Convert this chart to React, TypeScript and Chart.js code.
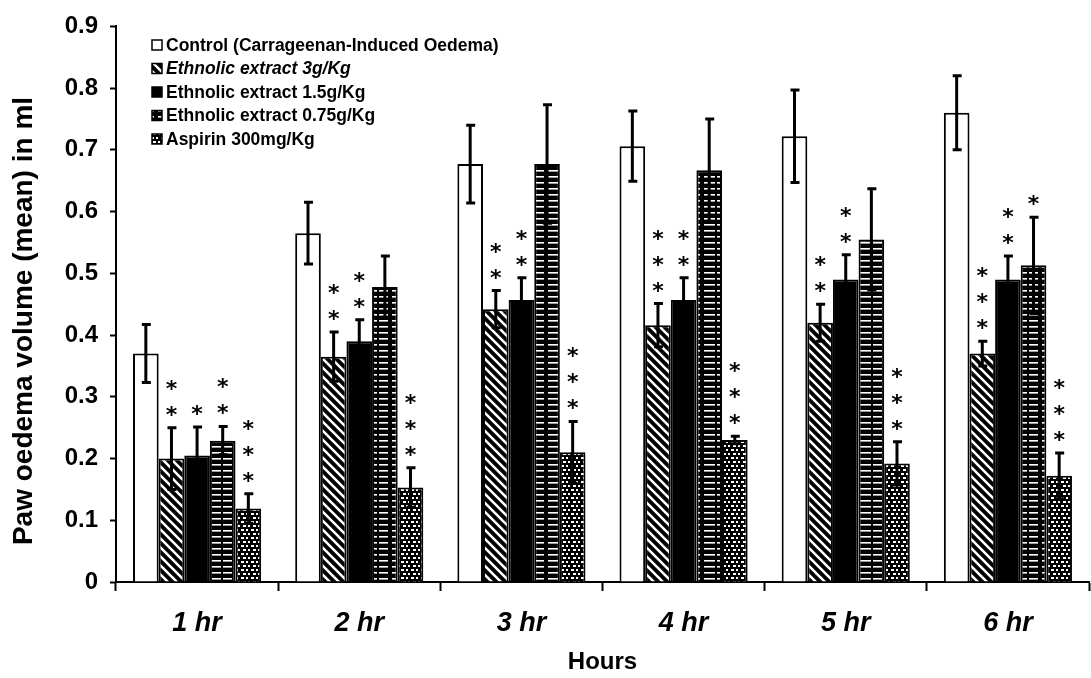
import React, { useEffect, useRef } from 'react';
import { Chart, registerables } from 'chart.js';

Chart.register(...registerables);

const categories = ['1 hr', '2 hr', '3 hr', '4 hr', '5 hr', '6 hr'];
const seriesNames = [
  'Control (Carrageenan-Induced Oedema)',
  'Ethnolic extract 3g/Kg',
  'Ethnolic extract 1.5g/Kg',
  'Ethnolic extract 0.75g/Kg',
  'Aspirin 300mg/Kg',
];
const controlValues = [0.37, 0.565, 0.677, 0.706, 0.722, 0.76];
const extract3Values = [0.2, 0.365, 0.442, 0.416, 0.42, 0.37];
const extract15Values = [0.205, 0.39, 0.457, 0.457, 0.49, 0.49];
const extract075Values = [0.229, 0.478, 0.677, 0.667, 0.555, 0.513];
const aspirinValues = [0.119, 0.153, 0.21, 0.23, 0.192, 0.172];

const controlErrors = [0.047, 0.05, 0.063, 0.057, 0.075, 0.06];
const extract3Errors = [0.05, 0.04, 0.03, 0.035, 0.03, 0.02];
const extract15Errors = [0.046, 0.035, 0.036, 0.036, 0.04, 0.038];
const extract075Errors = [0.023, 0.05, 0.096, 0.083, 0.082, 0.078];
const aspirinErrors = [0.024, 0.032, 0.05, 0.006, 0.035, 0.037];

const controlStars = [0, 0, 0, 0, 0, 0];
const extract3Stars = [2, 2, 2, 3, 2, 3];
const extract15Stars = [1, 2, 2, 2, 2, 2];
const extract075Stars = [2, 0, 0, 0, 0, 1];
const aspirinStars = [3, 3, 3, 3, 3, 3];

const yTicks = [0, 0.1, 0.2, 0.3, 0.4, 0.5, 0.6, 0.7, 0.8, 0.9];
const yTitle = 'Paw oedema volume (mean) in ml';
const xTitle = 'Hours';

const FONT = '"Liberation Sans", Arial, sans-serif';

function makeTile(w: number, h: number, draw: (c: CanvasRenderingContext2D) => void) {
  const cv = document.createElement('canvas');
  cv.width = w;
  cv.height = h;
  const c = cv.getContext('2d') as CanvasRenderingContext2D;
  draw(c);
  return cv;
}

function makePatterns(ctx: CanvasRenderingContext2D) {
  const diag = makeTile(9, 9, (c) => {
    c.fillStyle = '#000';
    c.fillRect(0, 0, 9, 9);
    c.strokeStyle = '#fff';
    c.lineWidth = 2.6;
    c.beginPath();
    c.moveTo(-2, -2);
    c.lineTo(11, 11);
    c.moveTo(-11, -2);
    c.lineTo(2, 11);
    c.moveTo(7, -2);
    c.lineTo(20, 11);
    c.stroke();
  });
  const dash = makeTile(26, 6, (c) => {
    c.fillStyle = '#000';
    c.fillRect(0, 0, 26, 6);
    c.fillStyle = '#fff';
    c.fillRect(2, 2, 11, 1.6);
    c.fillRect(15, 2, 9, 1.6);
  });
  const dots = makeTile(10, 8, (c) => {
    c.fillStyle = '#000';
    c.fillRect(0, 0, 10, 8);
    c.fillStyle = '#fff';
    c.fillRect(1, 1, 3, 2);
    c.fillRect(6, 1, 2, 2);
    c.fillRect(3, 5, 3, 2);
    c.fillRect(8, 5, 2, 2);
  });
  return {
    diag: ctx.createPattern(diag, 'repeat') as CanvasPattern,
    dash: ctx.createPattern(dash, 'repeat') as CanvasPattern,
    dots: ctx.createPattern(dots, 'repeat') as CanvasPattern,
  };
}

export default function App() {
  const ref = useRef<HTMLCanvasElement | null>(null);

  useEffect(() => {
    const canvas = ref.current;
    if (!canvas) return;
    const ctx = canvas.getContext('2d') as CanvasRenderingContext2D;
    const p = makePatterns(ctx);

    const values = [controlValues, extract3Values, extract15Values, extract075Values, aspirinValues];
    const errors = [controlErrors, extract3Errors, extract15Errors, extract075Errors, aspirinErrors];
    const stars = [controlStars, extract3Stars, extract15Stars, extract075Stars, aspirinStars];
    const fills: (string | CanvasPattern)[] = ['#ffffff', p.diag, '#000000', p.dash, p.dots];

    const overlay = {
      id: 'overlay',
      afterDatasetsDraw(chart: any) {
        const c = chart.ctx as CanvasRenderingContext2D;
        const ys = chart.scales.y;
        c.save();
        values.forEach((_, i) => {
          const meta = chart.getDatasetMeta(i);
          meta.data.forEach((el: any, j: number) => {
            const v = values[i][j];
            const e = errors[i][j];
            const x = el.x;
            const yt = ys.getPixelForValue(v + e);
            const yb = ys.getPixelForValue(v - e);
            c.strokeStyle = '#000';
            c.lineWidth = 3;
            c.beginPath();
            c.moveTo(x, yb);
            c.lineTo(x, yt);
            c.moveTo(x - 4, yt);
            c.lineTo(x + 5, yt);
            c.moveTo(x - 4, yb);
            c.lineTo(x + 5, yb);
            c.stroke();
            const n = stars[i][j];
            c.fillStyle = '#000';
            c.font = 'bold 22px "DejaVu Sans", sans-serif';
            c.textAlign = 'center';
            c.textBaseline = 'alphabetic';
            const m = c.measureText('*');
            const off = (m.actualBoundingBoxAscent - m.actualBoundingBoxDescent) / 2;
            for (let k = 0; k < n; k++) {
              const cy = yt - 17 - k * 26;
              c.fillText('*', x, cy + off);
            }
          });
        });
        c.restore();
      },
      afterDraw(chart: any) {
        const c = chart.ctx as CanvasRenderingContext2D;
        c.save();
        seriesNames.forEach((name, i) => {
          const cy = 45 + i * 23.5;
          const bx = 152;
          c.fillStyle = fills[i] as any;
          c.fillRect(bx, cy - 5, 10, 10);
          c.strokeStyle = '#000';
          c.lineWidth = 1.5;
          c.strokeRect(bx, cy - 5, 10, 10);
          c.fillStyle = '#000';
          c.font = (i === 1 ? 'italic ' : '') + 'bold 17.5px ' + FONT;
          c.textAlign = 'left';
          c.textBaseline = 'middle';
          c.fillText(name, bx + 14, cy + 1);
        });
        // y-axis title
        c.translate(24, 321);
        c.rotate(-Math.PI / 2);
        c.font = 'bold 28px ' + FONT;
        c.textAlign = 'center';
        c.textBaseline = 'middle';
        c.fillText(yTitle, 0, 0);
        c.restore();
      },
    };

    const chart = new Chart(ctx, {
      type: 'bar',
      data: {
        labels: categories,
        datasets: values.map((vals, i) => ({
          label: seriesNames[i],
          data: vals,
          backgroundColor: fills[i] as any,
          borderColor: '#000',
          borderWidth: 2,
          categoryPercentage: 0.79,
          barPercentage: 1.0,
        })),
      },
      options: {
        responsive: false,
        animation: false,
        events: [],
        layout: { padding: { top: 23, right: 2, bottom: 0, left: 0 } },
        plugins: {
          legend: { display: false },
          tooltip: { enabled: false },
          title: { display: false },
        },
        scales: {
          x: {
            afterFit: (s: any) => { s.height = 96; },
            grid: { display: true, drawOnChartArea: false, drawTicks: true, tickLength: 9, tickWidth: 2, tickColor: '#000', offset: true },
            border: { display: true, color: '#000', width: 2 },
            ticks: { color: '#000', padding: 16, font: { family: FONT, size: 27, weight: 'bold', style: 'italic' } },
            title: { display: true, text: xTitle, color: '#000', padding: { top: 0, bottom: 1 }, font: { family: FONT, size: 24, weight: 'bold' } },
          },
          y: {
            min: 0,
            max: 0.9,
            afterFit: (s: any) => { s.width = 116; },
            afterBuildTicks: (s: any) => { s.ticks = yTicks.map((v) => ({ value: v })); },
            grid: { display: true, drawOnChartArea: false, drawTicks: true, tickLength: 6, tickWidth: 2, tickColor: '#000' },
            border: { display: true, color: '#000', width: 2 },
            ticks: {
              color: '#000',
              padding: 12,
              font: { family: FONT, size: 24, weight: 'bold' },
              callback: (v: any) => (Number(v) === 0 ? '0' : Number(v).toFixed(1)),
            },
            title: { display: false },
          },
        },
      },
      plugins: [overlay],
    } as any);

    return () => chart.destroy();
  }, []);

  return (
    <div style={{ position: 'absolute', left: 0, top: 0, width: 1091, height: 678, background: '#fff' }}>
      <canvas ref={ref} width={1091} height={678} style={{ display: 'block' }} />
    </div>
  );
}
